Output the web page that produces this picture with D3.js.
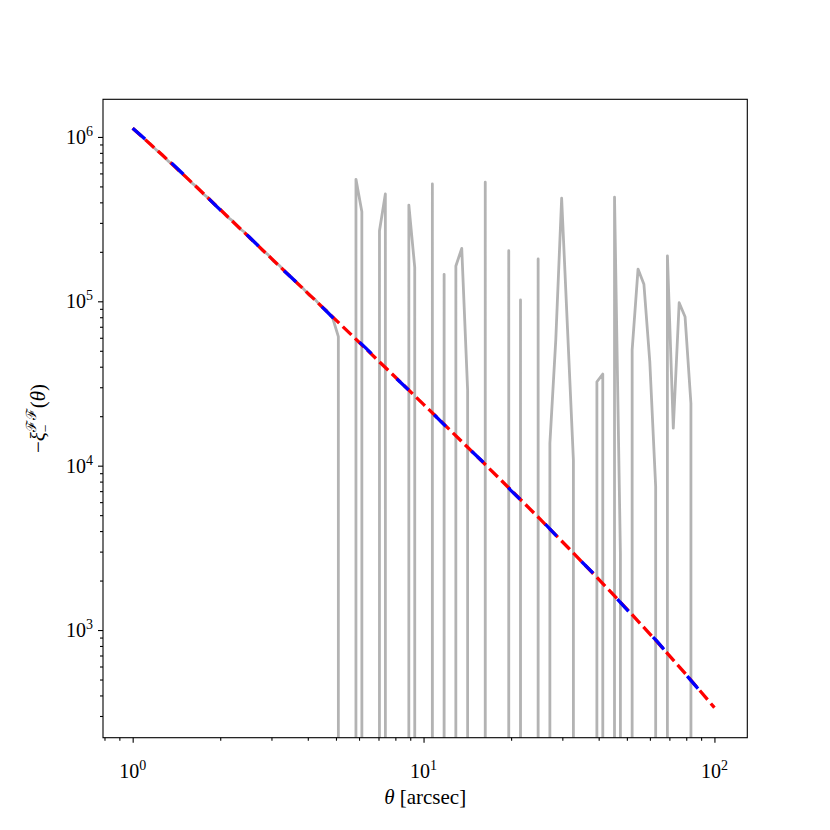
<!DOCTYPE html>
<html>
<head>
<meta charset="utf-8">
<script src="https://cdn.jsdelivr.net/npm/d3@7"></script>
<style>
  body { margin: 0; background: #fff; }
  svg text { font-family: "Liberation Serif", "DejaVu Serif", serif; fill: #000; }
</style>
</head>
<body>
<div id="chart"></div>
<script>
// theta grid of the measurement (log spaced, 1..100 arcsec)
const theta = [
  1.000, 1.0476, 1.0975, 1.1498, 1.2045, 1.2619, 1.3219, 1.3849, 1.4508, 1.5199,
  1.5923, 1.6681, 1.7475, 1.8307, 1.9179, 2.0092, 2.1049, 2.2051, 2.3101, 2.4201,
  2.5354, 2.6561, 2.7826, 2.9151, 3.0539, 3.1993, 3.3516, 3.5112, 3.6784, 3.8535,
  4.0370, 4.2292, 4.4306, 4.6416, 4.8626, 5.0941, 5.3367, 5.5908, 5.8570, 6.1359,
  6.4281, 6.7342, 7.0548, 7.3907, 7.7426, 8.1113, 8.4975, 8.9022, 9.3260, 9.7701,
  10.235, 10.723, 11.233, 11.768, 12.328, 12.915, 13.530, 14.175, 14.850, 15.557,
  16.298, 17.074, 17.886, 18.738, 19.630, 20.565, 21.544, 22.570, 23.645, 24.771,
  25.950, 27.186, 28.480, 29.836, 31.257, 32.745, 34.305, 35.938, 37.649, 39.442,
  41.320, 43.288, 45.349, 47.508, 49.770, 52.140, 54.623, 57.224, 59.948, 62.803,
  65.793, 68.926, 72.208, 75.646, 79.248, 83.022, 86.975, 91.116, 95.455, 100.00
];

// measured -xi_minus (negative values fall off the log axis)
const xiMeasured = [
  1130000, 1052000, 968000, 909000, 834000, 781000, 716000, 671000, 613000, 576000,
  527000, 494000, 450000, 422000, 385000, 361000, 329000, 309000, 281000, 264000,
  240000, 226000, 205000, 193000, 175000, 165000, 150000, 141000, 128000, 120000,
  109000, 103000, 93500, 88000, 80000, 61000, -18000, -42000, 552000, 351000,
  -90000, -31000, 269000, 450000, -120000, -64000, -25000, 385000, 161000, -47000,
  -150000, 518000, -36000, 146000, -81000, 164000, 210000, 28800, -12000, -70000,
  530000, -95000, -20000, -54000, 203000, -33000, 102000, -61000, -17000, 181000,
  -44000, 13700, 58000, 424000, 68000, 10800, -27000, -9000, -38000, 32400,
  36100, -21000, 430000, 2900, -15000, 50600, 157000, 127000, 43000, 7450,
  -11000, 189000, 16900, 98000, 80600, 23900, -6000, -14000, -4000, -9000
];

// model curves
const thetaModel = [1.000, 1.259, 1.585, 1.995, 2.512, 3.162, 3.981, 5.012, 6.310, 7.943,
  10.00, 12.59, 15.85, 19.95, 25.12, 31.62, 39.81, 50.12, 63.10, 79.43, 100.0];
const xiFit = [1130000, 781600, 534600, 363100, 246000, 166700, 113000, 76560, 51760, 34990,
  23600, 15890, 10670, 7129, 4742, 3133, 2056, 1337, 859, 543, 337];
const xiPred = [1130000, 792000, 537000, 361000, 247000, 165500, 113600, 75900, 52300, 34800,
  23700, 15750, 10720, 7080, 4770, 3110, 2070, 1325, 864, 540, 337];

const xTicks = [1, 10, 100];
const yTicks = [1e3, 1e4, 1e5, 1e6];

const width = 830, height = 830;
const margin = {left: 103, top: 99.3};
const w = 644.3, h = 638.4;

const svg = d3.select("#chart").append("svg")
  .attr("width", width).attr("height", height);

svg.append("defs").append("clipPath").attr("id", "clip")
  .append("rect").attr("width", w).attr("height", h);

const g = svg.append("g").attr("transform", `translate(${margin.left},${margin.top})`);

const x = d3.scaleLog().domain([Math.pow(10, -0.102), Math.pow(10, 2.113)]).range([0, w]);
const y = d3.scaleLog().domain([Math.pow(10, 2.345), Math.pow(10, 6.229)]).range([h, 0]);

// minor ticks 2..9 x 10^k inside the domain
function minors(scale) {
  const [a, b] = scale.domain();
  const out = [];
  for (let k = Math.floor(Math.log10(a)); k <= Math.ceil(Math.log10(b)); k++) {
    for (let m = 2; m <= 9; m++) {
      const v = m * Math.pow(10, k);
      if (v >= a && v <= b) out.push(v);
    }
  }
  return out;
}

const plot = g.append("g").attr("clip-path", "url(#clip)");

const yv = v => v > 0 ? y(v) : h + 1e5;

plot.append("path")
  .datum(theta.map((t, i) => [t, xiMeasured[i]]))
  .attr("fill", "none")
  .attr("stroke", "#b3b3b3")
  .attr("stroke-width", 2.8)
  .attr("stroke-linejoin", "round")
  .attr("d", d3.line().x(d => x(d[0])).y(d => yv(d[1])));

plot.append("path")
  .datum(thetaModel.map((t, i) => [t, xiFit[i]]))
  .attr("fill", "none")
  .attr("stroke", "#ff0000")
  .attr("stroke-width", 3.3)
  .attr("stroke-dasharray", "12,5")
  .attr("d", d3.line().x(d => x(d[0])).y(d => y(d[1])));

plot.append("path")
  .datum(thetaModel.map((t, i) => [t, xiPred[i]]))
  .attr("fill", "none")
  .attr("stroke", "#0000ff")
  .attr("stroke-width", 3.3)
  .attr("stroke-dasharray", "16.5,35.5")
  .attr("d", d3.line().x(d => x(d[0])).y(d => y(d[1])));

// axes
const xMajor = g.append("g").attr("transform", `translate(0,${h})`)
  .call(d3.axisBottom(x).tickValues(xTicks).tickSize(5).tickFormat(""));
const xMinor = g.append("g").attr("transform", `translate(0,${h})`)
  .call(d3.axisBottom(x).tickValues(minors(x)).tickSize(3).tickFormat(""));
const yMajor = g.append("g")
  .call(d3.axisLeft(y).tickValues(yTicks).tickSize(5).tickFormat(""));
const yMinor = g.append("g")
  .call(d3.axisLeft(y).tickValues(minors(y)).tickSize(3).tickFormat(""));

[xMajor, xMinor, yMajor, yMinor].forEach(a => {
  a.select(".domain").remove();
  a.selectAll("line").attr("stroke", "#000").attr("stroke-width", 1.1);
});

function powLabel(sel, v) {
  const e = Math.round(Math.log10(v));
  sel.append("tspan").text("10");
  sel.append("tspan").attr("dy", -8).attr("font-size", 14).text(e);
}

xTicks.forEach(v => {
  const t = g.append("text")
    .attr("x", x(v)).attr("y", h + 40)
    .attr("text-anchor", "middle")
    .attr("font-size", 20);
  powLabel(t, v);
});

yTicks.forEach(v => {
  const t = g.append("text")
    .attr("x", -10).attr("y", y(v) + 7)
    .attr("text-anchor", "end")
    .attr("font-size", 20);
  powLabel(t, v);
});

g.append("rect")
  .attr("width", w).attr("height", h)
  .attr("fill", "none").attr("stroke", "#000").attr("stroke-width", 1.1);

// axis titles
const xl = svg.append("text")
  .attr("x", margin.left + w / 2).attr("y", 804)
  .attr("text-anchor", "middle").attr("font-size", 21);
xl.append("tspan").attr("font-style", "italic").text("θ");
xl.append("tspan").text(" [arcsec]");

const yl = svg.append("text")
  .attr("transform", `translate(45,${margin.top + h / 2}) rotate(-90)`)
  .attr("text-anchor", "middle").attr("font-size", 21);
yl.append("tspan").text("−");
yl.append("tspan").attr("font-style", "italic").text("ξ");
yl.append("tspan").attr("font-size", 14).attr("dy", 5).text("−");
yl.append("tspan").attr("font-size", 14).attr("dy", -14).attr("dx", -8).text("ℱℱ");
yl.append("tspan").attr("dy", 9).text("(");
yl.append("tspan").attr("font-style", "italic").text("θ");
yl.append("tspan").text(")");
</script>
</body>
</html>
